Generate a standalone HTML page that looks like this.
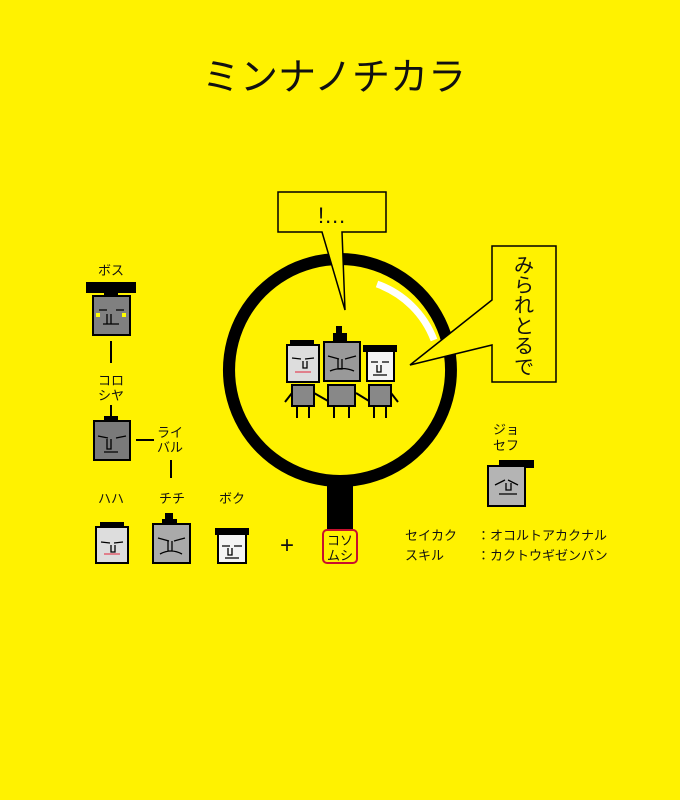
<!DOCTYPE html>
<html><head><meta charset="utf-8"><style>
html,body{margin:0;padding:0;background:#fff200}
svg{display:block}
text{font-family:"Liberation Sans","Noto Sans CJK JP",sans-serif;fill:#111}
</style></head><body>
<svg width="680" height="800" viewBox="0 0 680 800" xmlns="http://www.w3.org/2000/svg">
<rect width="680" height="800" style="fill:#fff200"/>
<text x="334" y="90" font-size="38" text-anchor="middle">ミンナノチカラ</text>

<!-- magnifier -->
<rect x="327" y="475" width="26" height="56" fill="#000"/>
<path d="M340 253 A117 117 0 1 1 339.9 253 Z M340 265 A105 105 0 1 0 340.1 265 Z" fill="#000" fill-rule="evenodd"/>
<path d="M377 284 A95 95 0 0 1 434 340" style="fill:none;stroke:#fff;stroke-width:7"/>

<!-- bubble 1 -->
<path d="M278 192 H386 V232 H342 L345 310 L322 232 H278 Z" style="fill:#fff200;stroke:#000;stroke-width:1.5"/>
<text x="318" y="223" font-size="22">!…</text>
<!-- bubble 2 -->
<path d="M492 246 H556 V382 H492 V345 L410 365 L492 300 Z" style="fill:#fff200;stroke:#000;stroke-width:1.5"/>
<g font-size="20" text-anchor="middle">
<text x="524" y="272">み</text>
<text x="524" y="292">ら</text>
<text x="524" y="312">れ</text>
<text x="524" y="333">と</text>
<text x="524" y="353">る</text>
<text x="524" y="374">で</text>
</g>

<g stroke="#000" stroke-width="2">
<rect x="87" y="283" width="48" height="9" fill="#000"/>
<rect x="105" y="291" width="12" height="6" fill="#000"/>
<rect x="93" y="296" width="37" height="39" fill="#808080"/>
<line x1="111" y1="341" x2="111" y2="363"/>
<line x1="111" y1="405" x2="111" y2="418"/>
<rect x="105" y="417" width="12" height="5" fill="#000"/>
<rect x="94" y="421" width="36" height="39" fill="#7a7a7a"/>
<line x1="136" y1="440" x2="154" y2="440"/>
<line x1="171" y1="460" x2="171" y2="478"/>
<rect x="101" y="523" width="22" height="5" fill="#000"/>
<rect x="96" y="527" width="32" height="36" fill="#ddd"/>
<rect x="166" y="514" width="6" height="8" fill="#000"/>
<rect x="163" y="520" width="13" height="5" fill="#000"/>
<rect x="153" y="524" width="37" height="39" fill="#aaa"/>
<rect x="218" y="531" width="28" height="32" fill="#f4f4f4"/>
<rect x="216" y="529" width="32" height="5" fill="#000"/>
<rect x="323" y="530" width="34" height="33" rx="4" fill="none" stroke="#c8102e" stroke-width="2"/>
<rect x="500" y="461" width="33" height="6" fill="#000"/>
<rect x="488" y="466" width="37" height="40" fill="#b4b4b4"/>
<rect x="291" y="341" width="22" height="5" fill="#000"/>
<rect x="287" y="345" width="32" height="37" fill="#ddd"/>
<rect x="337" y="327" width="4" height="8" fill="#000"/>
<rect x="334" y="334" width="12" height="6" fill="#000"/>
<rect x="324" y="342" width="36" height="39" fill="#999"/>
<rect x="367" y="349" width="27" height="32" fill="#f4f4f4"/>
<rect x="364" y="346" width="32" height="5" fill="#000"/>
<rect x="292" y="385" width="22" height="21" fill="#888"/>
<rect x="328" y="385" width="27" height="21" fill="#888"/>
<rect x="369" y="385" width="22" height="21" fill="#888"/>
<path d="M297 406v12M309 406v12M334 406v12M349 406v12M374 406v12M386 406v12" fill="none"/>
<path d="M292 393l-7 9M314 393l14 8M356 393l13 8M391 393l7 9" fill="none"/>
</g>
<g stroke="#000" stroke-width="1.3" fill="none">
<path d="M99 310h8M116 310h8M111 314v10h-4v-10M103 324h16"/>
<path d="M98 436l10 2M126 436l-10 2M111 439v10h-4v-10M104 452h14"/>
<path d="M101 542l9 1M123 542l-9 1M111 545v7h4v-7"/>
<path d="M158 538l11 3M185 538l-11 3M172 541v10h-4v-10M160 554q11-6 22 0"/>
<path d="M222 546h8M234 546h8M232 548v7h-4v-7M225 558h14"/>
<path d="M495 485l10-5M518 485l-10-5M506 483v7h5v-7M499 494h18"/>
<path d="M292 358l9 1M314 358l-9 1M303 361v7h4v-7"/>
<path d="M328 356l11 3M356 356l-11 3M342 359v10h-4v-10M330 371q12-5 24 0"/>
<path d="M371 362h7M382 362h7M381 365v7h-4v-7M373 375h14"/>
</g>
<path d="M295 372h16" stroke="#e06070" stroke-width="1.5"/>
<path d="M104 554h16" stroke="#e06070" stroke-width="1.5"/>
<rect x="96" y="313" width="4" height="4" fill="#ff0"/><rect x="122" y="313" width="4" height="4" fill="#ff0"/>

<g font-size="13">
<text x="111" y="275" text-anchor="middle">ボス</text>
<text x="111" y="385" text-anchor="middle">コロ</text>
<text x="111" y="400" text-anchor="middle">シヤ</text>
<text x="157" y="437">ライ</text>
<text x="157" y="452">バル</text>
<text x="111" y="503" text-anchor="middle">ハハ</text>
<text x="172" y="503" text-anchor="middle">チチ</text>
<text x="232" y="503" text-anchor="middle">ボク</text>
<text x="493" y="434">ジョ</text>
<text x="493" y="450">セフ</text>
<text x="327" y="545">コソ</text>
<text x="327" y="560">ムシ</text>
<text x="405" y="540">セイカク</text>
<text x="405" y="560">スキル</text>
<text x="477" y="540">：オコルトアカクナル</text>
<text x="477" y="560">：カクトウギゼンパン</text>
</g>
<text x="287" y="553" font-size="24" text-anchor="middle">+</text>
</svg>
</body></html>
